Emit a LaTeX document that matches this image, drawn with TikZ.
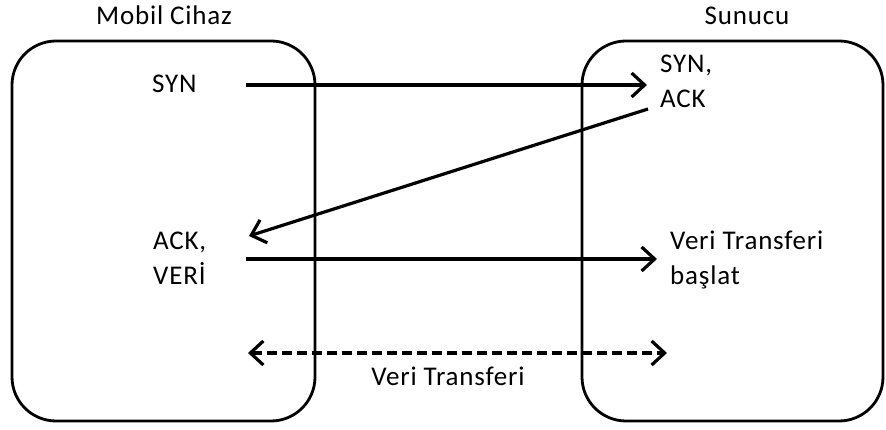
\documentclass[tikz,border=0pt]{standalone}
\usepackage{fontspec}
\setmainfont{Carlito}[LetterSpace=3]
\usetikzlibrary{arrows.meta}
\begin{document}
\begin{tikzpicture}[x=1pt,y=-1pt,
  panel/.style={draw, line width=2.8pt, rounded corners=44pt},
  lbl/.style={font=\fontsize{27}{35}\selectfont, inner sep=0pt},
  msg/.style={line width=3.2pt, -{Straight Barb[length=13pt,width=24pt]}},
  dmsg/.style={line width=3.2pt, dash pattern=on 10pt off 5pt, {Straight Barb[length=13pt,width=24pt]}-{Straight Barb[length=13pt,width=24pt]}}]
\useasboundingbox (0,0) rectangle (886,430);
\draw[panel] (12,41) rectangle (315,421);
\draw[panel] (582,41) rectangle (883,421);
\node[lbl, anchor=base] (mobil) at (164,25) {Mobil Cihaz};
\node[lbl, anchor=base] (sunucu) at (747,25) {Sunucu};
\node[lbl, anchor=base west] (syn) at (152,93) {SYN};
\node[lbl, anchor=base west, align=left] (synack) at (660,108) {SYN,\\ACK};
\node[lbl, anchor=base west, align=left] (ackveri) at (153,285) {ACK,\\VERİ};
\node[lbl, anchor=base west, align=left] (basla) at (670,285) {Veri Transferi\\başlat};
\node[lbl, anchor=base] (vt) at (448,385) {Veri Transferi};
\coordinate (a1) at (246,85);
\coordinate (b1) at (647,85);
\coordinate (b2) at (648,109);
\coordinate (a2) at (249,236);
\coordinate (a3) at (246,259);
\coordinate (b3) at (657,259);
\coordinate (a4) at (248,353);
\coordinate (b4) at (667,353);
\draw[msg] (a1) -- (b1);
\draw[msg] (b2) -- (a2);
\draw[msg] (a3) -- (b3);
\draw[dmsg] (a4) -- (b4);
\end{tikzpicture}
\end{document}
